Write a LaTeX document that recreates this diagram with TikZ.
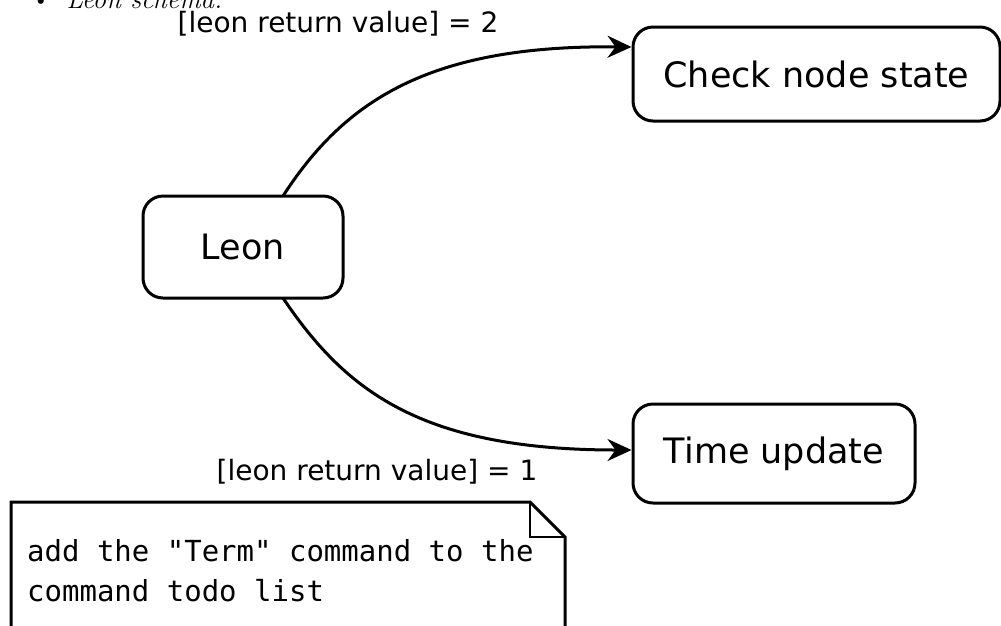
\documentclass[tikz,border=0pt]{standalone}
\usepackage{fontspec}
\setmainfont{Latin Modern Roman}
\newfontfamily\dejavu{DejaVu Sans}
\newfontfamily\dejamono{DejaVu Sans Mono}
\usetikzlibrary{arrows.meta}
\begin{document}
\begin{tikzpicture}[x=1pt,y=-1pt,
  state/.style={draw,line width=3pt,rounded corners=20pt,inner sep=0pt,font=\dejavu\fontsize{35}{42}\selectfont},
  conn/.style={line width=3pt,-{Stealth[length=24pt,width=22pt,inset=8pt]}},
  lbl/.style={inner sep=0pt,font=\dejavu\fontsize{28}{34}\selectfont},
  mono/.style={inner sep=0pt,anchor=base west,font=\dejamono\fontsize{29}{35}\selectfont}]
\useasboundingbox (0,0) rectangle (1001,625);
\fill[white] (0,0) rectangle (1001,625);
% header (cropped, as in the reference)
\node[anchor=base west,inner sep=0pt] (hdr) at (31,8) {\fontsize{27}{32}\selectfont\textbullet\hspace{16pt}\itshape Leon schema.};
% states
\node[state,minimum width=200pt,minimum height=102pt] (leon) at (243,247) {Leon};
\node[state,minimum width=367pt,minimum height=94pt] (check) at (816.5,74) {Check node state};
\node[state,minimum width=282pt,minimum height=99pt] (time) at (774,453.5) {Time update};
% connectors
\coordinate (s1) at (283,196);
\coordinate (s2) at (283,298);
\draw[conn] (s1) .. controls (345,100) and (430,45) .. (check.west |- 0,47);
\draw[conn] (s2) .. controls (345,390) and (420,450) .. (time.west |- 0,450);
\node[lbl,anchor=base] (l2) at (338,32) {[leon return value] = 2};
\node[lbl,anchor=base] (l1) at (377,480) {[leon return value] = 1};
% note
\draw[line width=3pt,fill=white] (11,640) -- (11,502) -- (530,502) -- (565,537) -- (565,640);
\draw[line width=1.5pt] (530,502) -- (530,537) -- (565,537);
\node[mono] (n1) at (27,561) {add the "Term" command to the};
\node[mono] (n2) at (27,601) {command todo list};
\end{tikzpicture}
\end{document}
